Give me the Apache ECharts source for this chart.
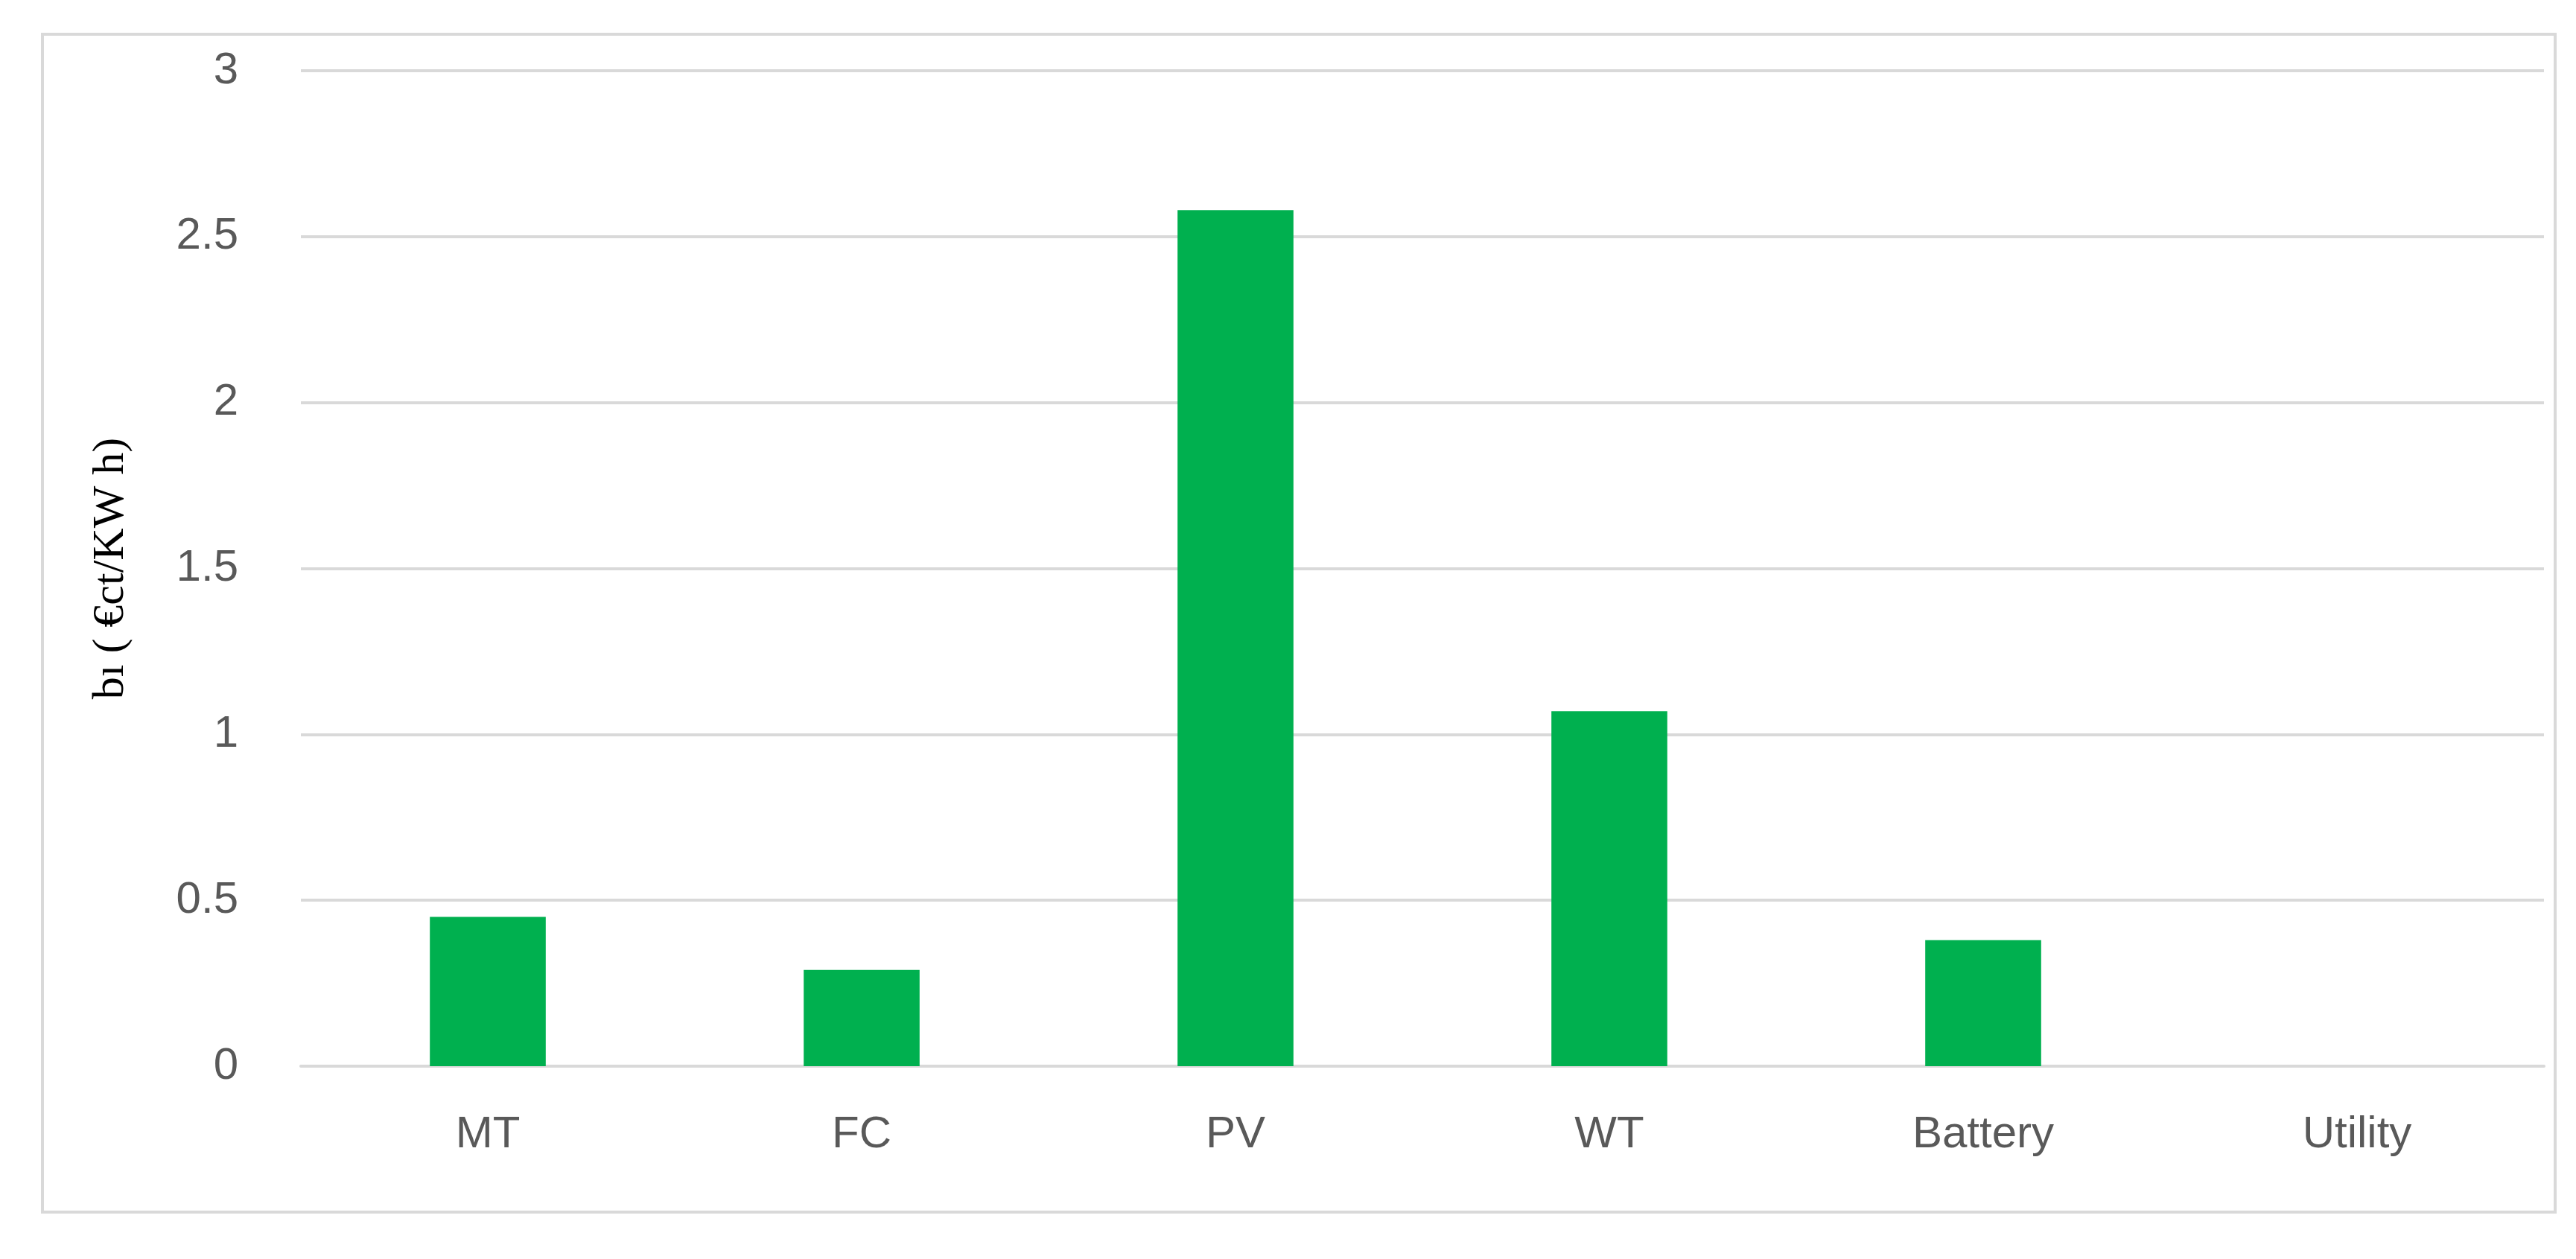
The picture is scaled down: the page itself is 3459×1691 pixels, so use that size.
<!DOCTYPE html>
<html><head><meta charset="utf-8">
<script src="https://cdn.jsdelivr.net/npm/echarts@6/dist/echarts.min.js"></script>
<style>html,body{margin:0;padding:0;background:#fff}#frame{position:absolute;left:55px;top:44px;width:3378px;height:1586px;border:4px solid #d9d9d9;box-sizing:border-box}#c{width:3459px;height:1691px}</style>
</head><body><div id="frame"></div><div id="c"></div>
<script>
const categories = ['MT','FC','PV','WT','Battery','Utility'];
const values = [0.45, 0.29, 2.58, 1.07, 0.38, 0];
const yTicks = [0, 0.5, 1, 1.5, 2, 2.5, 3];
const chart = echarts.init(document.getElementById('c'));
chart.setOption({
  animation:false,
  grid:{left:404,right:43,top:95,bottom:259},
  xAxis:{type:'category',data:categories,
    axisLine:{show:true,lineStyle:{color:'#d9d9d9',width:4}},axisTick:{show:false},
    axisLabel:{color:'#595959',fontSize:60,fontFamily:'Liberation Sans',margin:62}},
  yAxis:{type:'value',min:0,max:3,interval:0.5,
    name:'bı ( €ct/KW h)',nameLocation:'middle',nameGap:225,
    nameTextStyle:{color:'#000',fontSize:60,fontFamily:'Liberation Serif'},
    axisLabel:{color:'#595959',fontSize:60,fontFamily:'Liberation Sans',margin:84,
      formatter:v=>yTicks.includes(v)?String(v):''},
    splitLine:{lineStyle:{color:'#d9d9d9',width:4}}},
  series:[{type:'bar',data:values,barWidth:'31%',itemStyle:{color:'#00b04f'}}]
});
</script></body></html>
